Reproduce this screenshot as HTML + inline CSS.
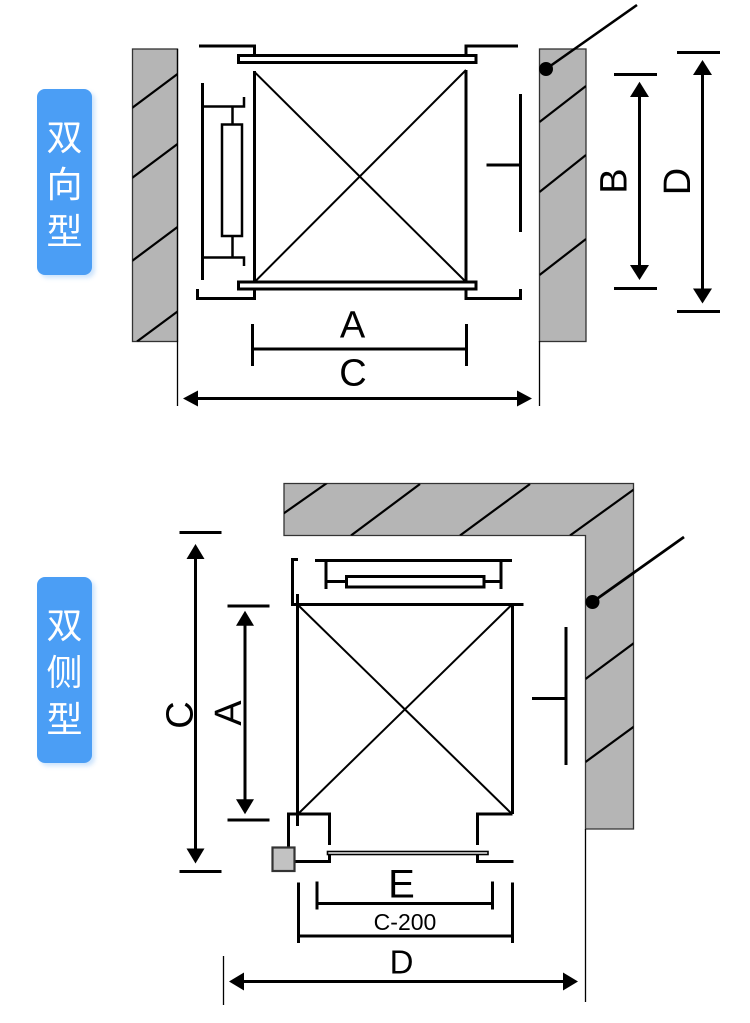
<!DOCTYPE html>
<html><head><meta charset="utf-8">
<style>
html,body{margin:0;padding:0;background:#fff;}
body{width:750px;height:1023px;overflow:hidden;position:relative;}
.tag{position:absolute;left:37px;width:55px;background:#4b9ef5;border-radius:8px;box-shadow:3px 3px 4px rgba(75,158,245,0.28);color:#fff;font-family:"Liberation Sans","Noto Sans CJK SC",sans-serif;font-size:36px;line-height:47px;text-align:center;box-sizing:border-box;padding-top:25px;}
svg{position:absolute;left:0;top:0;}
</style></head><body>
<div class="tag" style="top:89px;height:186px;">双<br>向<br>型</div>
<div class="tag" style="top:577px;height:186px;">双<br>侧<br>型</div>
<svg width="750" height="1023" viewBox="0 0 750 1023" xmlns="http://www.w3.org/2000/svg">
<defs>
<clipPath id="lw"><rect x="132.5" y="49" width="45" height="292.5"/></clipPath>
<clipPath id="rw"><rect x="539.5" y="49" width="46.5" height="292.5"/></clipPath>
<clipPath id="Lw"><path d="M284,483.5 H633.5 V829 H585.5 V535.5 H284 Z"/></clipPath>
</defs>
<g fill="none" stroke="#000" stroke-linecap="butt">
<!-- ===== Upper diagram ===== -->
<rect x="132.5" y="49" width="45" height="292.5" fill="#b5b5b5" stroke="#333" stroke-width="1.3"/>
<g clip-path="url(#lw)" stroke-width="2.2">
<line x1="132" y1="108" x2="177.5" y2="74"/>
<line x1="132" y1="178" x2="177.5" y2="144"/>
<line x1="132" y1="261" x2="177.5" y2="227"/>
<line x1="137" y1="341.5" x2="177.5" y2="311.5"/>
</g>
<line x1="177.5" y1="49" x2="177.5" y2="406" stroke-width="1.3"/>
<rect x="539.5" y="49" width="46.5" height="292.5" fill="#b5b5b5" stroke="#333" stroke-width="1.3"/>
<g clip-path="url(#rw)" stroke-width="2.2">
<line x1="539.5" y1="122" x2="586" y2="86"/>
<line x1="539.5" y1="192" x2="586" y2="155"/>
<line x1="539.5" y1="275" x2="586" y2="239"/>
</g>
<line x1="539.5" y1="341" x2="539.5" y2="406" stroke-width="1.3"/>

<!-- doors -->
<rect x="238.5" y="55.5" width="237.5" height="7" fill="#fff" stroke-width="3"/>
<rect x="238.5" y="282" width="237.5" height="7" fill="#fff" stroke-width="3"/>
<polyline points="199,46 254.5,46 254.5,55" stroke-width="3"/>
<polyline points="466,55 466,46 518,46" stroke-width="3"/>
<line x1="254.5" y1="71" x2="254.5" y2="282" stroke-width="3"/>
<line x1="466" y1="70" x2="466" y2="282" stroke-width="3"/>
<polyline points="197.5,289 197.5,298.5 254.5,298.5 254.5,289" stroke-width="3"/>
<polyline points="466,289 466,298.5 520.5,298.5 520.5,289" stroke-width="3"/>
<line x1="254.5" y1="72" x2="466" y2="282" stroke-width="2"/>
<line x1="466" y1="70" x2="254.5" y2="282" stroke-width="2"/>

<!-- counterweight -->
<line x1="202.5" y1="83" x2="202.5" y2="280" stroke-width="3"/>
<polyline points="202.5,106.5 244,106.5 244,97" stroke-width="2.5"/>
<line x1="232.5" y1="107" x2="232.5" y2="124.5" stroke-width="2.5"/>
<rect x="222" y="124.5" width="20" height="111.5" stroke-width="2.5"/>
<line x1="232.5" y1="236" x2="232.5" y2="257.5" stroke-width="2.5"/>
<polyline points="202.5,257.5 244,257.5 244,266" stroke-width="2.5"/>

<!-- right rail -->
<line x1="520.5" y1="94" x2="520.5" y2="232" stroke-width="3"/>
<line x1="486.5" y1="165" x2="520.5" y2="165" stroke-width="3"/>

<!-- leader -->
<line x1="546" y1="69" x2="637" y2="5" stroke-width="2.5"/>
<circle cx="546" cy="69" r="7" fill="#000" stroke="none"/>

<!-- B / D dims -->
<line x1="614" y1="74.5" x2="657" y2="74.5" stroke-width="3"/>
<line x1="614" y1="288.5" x2="657" y2="288.5" stroke-width="3"/>
<line x1="639.5" y1="95" x2="639.5" y2="266" stroke-width="3"/>
<line x1="677" y1="52.5" x2="720" y2="52.5" stroke-width="3"/>
<line x1="677" y1="311.5" x2="720" y2="311.5" stroke-width="3"/>
<line x1="702.5" y1="73" x2="702.5" y2="290" stroke-width="3"/>

<!-- A / C dims upper -->
<line x1="252.5" y1="324" x2="252.5" y2="366" stroke-width="3"/>
<line x1="466.5" y1="324" x2="466.5" y2="366" stroke-width="3"/>
<line x1="252.5" y1="349" x2="466.5" y2="349" stroke-width="3"/>
<line x1="196" y1="398.5" x2="519" y2="398.5" stroke-width="3"/>

<!-- ===== Lower diagram ===== -->
<path d="M284,483.5 H633.5 V829 H585.5 V535.5 H284 Z" fill="#b5b5b5" stroke="#333" stroke-width="1.3"/>
<g clip-path="url(#Lw)" stroke-width="2.2">
<line x1="280" y1="516" x2="327" y2="483"/>
<line x1="351" y1="535.5" x2="420" y2="484"/>
<line x1="460" y1="535.5" x2="530" y2="484"/>
<line x1="570" y1="535.5" x2="640" y2="485"/>
<line x1="585.5" y1="679" x2="634" y2="643"/>
<line x1="585.5" y1="762" x2="634" y2="726.5"/>
</g>
<line x1="585.5" y1="829" x2="585.5" y2="1002" stroke-width="1.3"/>

<!-- top door assembly -->
<polyline points="298,559.5 292.5,559.5 292.5,604.5 523.5,604.5" stroke-width="3"/>
<line x1="315" y1="560.5" x2="512" y2="560.5" stroke-width="3"/>
<line x1="326" y1="560.5" x2="326" y2="589" stroke-width="3"/>
<line x1="501" y1="560.5" x2="501" y2="589" stroke-width="3"/>
<line x1="326" y1="581.5" x2="346" y2="581.5" stroke-width="3"/>
<line x1="484" y1="581.5" x2="501" y2="581.5" stroke-width="3"/>
<rect x="346.5" y="576.5" width="137.5" height="10.5" fill="#fff" stroke-width="3"/>

<!-- car -->
<line x1="297.5" y1="594" x2="297.5" y2="826" stroke-width="3"/>
<line x1="512.5" y1="604" x2="512.5" y2="814" stroke-width="3"/>
<line x1="297.5" y1="604.5" x2="512" y2="814" stroke-width="2"/>
<line x1="512" y1="604.5" x2="298" y2="814" stroke-width="2"/>

<!-- bottom door area -->
<polyline points="288.5,847 288.5,814 329.5,814 329.5,845" stroke-width="3"/>
<polyline points="295,861.5 329.5,861.5 329.5,855" stroke-width="3"/>
<rect x="272.5" y="847.5" width="22" height="23.5" fill="#c2c2c2" stroke="#333" stroke-width="2.2"/>
<polyline points="477.5,845 477.5,814 512.5,814" stroke-width="3"/>
<polyline points="477.5,855 477.5,861.5 513.5,861.5" stroke-width="3"/>
<rect x="327.5" y="851.5" width="160.5" height="3" fill="#fff" stroke-width="1.6"/>

<!-- right rail lower -->
<line x1="566" y1="627" x2="566" y2="765" stroke-width="3"/>
<line x1="532" y1="698.5" x2="566" y2="698.5" stroke-width="3"/>

<!-- leader lower -->
<line x1="592.5" y1="602" x2="684" y2="537" stroke-width="2.8"/>
<circle cx="592.5" cy="602" r="7" fill="#000" stroke="none"/>

<!-- C / A dims lower -->
<line x1="179.5" y1="532.5" x2="221.5" y2="532.5" stroke-width="3"/>
<line x1="179.5" y1="871.5" x2="221.5" y2="871.5" stroke-width="3"/>
<line x1="195.5" y1="556" x2="195.5" y2="852" stroke-width="3"/>
<line x1="227.5" y1="606" x2="269.5" y2="606" stroke-width="3"/>
<line x1="227.5" y1="820" x2="269.5" y2="820" stroke-width="3"/>
<line x1="245" y1="622" x2="245" y2="803" stroke-width="3"/>

<!-- E / C-200 / D dims -->
<line x1="317" y1="881.5" x2="317" y2="909.5" stroke-width="3"/>
<line x1="492.5" y1="881.5" x2="492.5" y2="909.5" stroke-width="3"/>
<line x1="317" y1="903.5" x2="492.5" y2="903.5" stroke-width="3"/>
<line x1="298.5" y1="882.5" x2="298.5" y2="943" stroke-width="3"/>
<line x1="512.5" y1="882.5" x2="512.5" y2="943" stroke-width="3"/>
<line x1="298.5" y1="936" x2="512.5" y2="936" stroke-width="3"/>
<line x1="242" y1="981.5" x2="566" y2="981.5" stroke-width="3"/>
<line x1="223.5" y1="956" x2="223.5" y2="1005" stroke-width="1.3"/>
</g>

<!-- arrowheads -->
<g fill="#000" stroke="none">
<polygon points="639.5,81.7 630,97 649,97"/>
<polygon points="639.5,280 630,265 649,265"/>
<polygon points="702.5,60 693,75 712,75"/>
<polygon points="702.5,303.5 693,288.5 712,288.5"/>
<polygon points="183,398.5 198,390.5 198,406.5"/>
<polygon points="532,398.5 517,390.5 517,406.5"/>
<polygon points="195.5,544 186.5,559 204.5,559"/>
<polygon points="195.5,863.5 186.5,848.5 204.5,848.5"/>
<polygon points="245,610.7 236,625.7 254,625.7"/>
<polygon points="245,814.3 236,799.3 254,799.3"/>
<polygon points="229,981.5 244,972.5 244,990.5"/>
<polygon points="578,981.5 563,972.5 563,990.5"/>
</g>

<!-- labels -->
<g font-family="'Liberation Sans', sans-serif" fill="#000" text-anchor="middle">
<text x="352.5" y="337.5" font-size="38">A</text>
<text x="353" y="385.5" font-size="38">C</text>
<text x="612.5" y="195" font-size="38" transform="rotate(-90 612.5 181)">B</text>
<text x="676" y="195.5" font-size="38" transform="rotate(-90 676 181.5)">D</text>
<text x="178.5" y="729" font-size="38" transform="rotate(-90 178.5 715)">C</text>
<text x="227" y="727" font-size="38" transform="rotate(-90 227 713)">A</text>
<text x="401.5" y="897.5" font-size="40">E</text>
<text x="405" y="930" font-size="23">C-200</text>
<text x="401.5" y="973.5" font-size="33">D</text>
</g>
</svg>
</body></html>
